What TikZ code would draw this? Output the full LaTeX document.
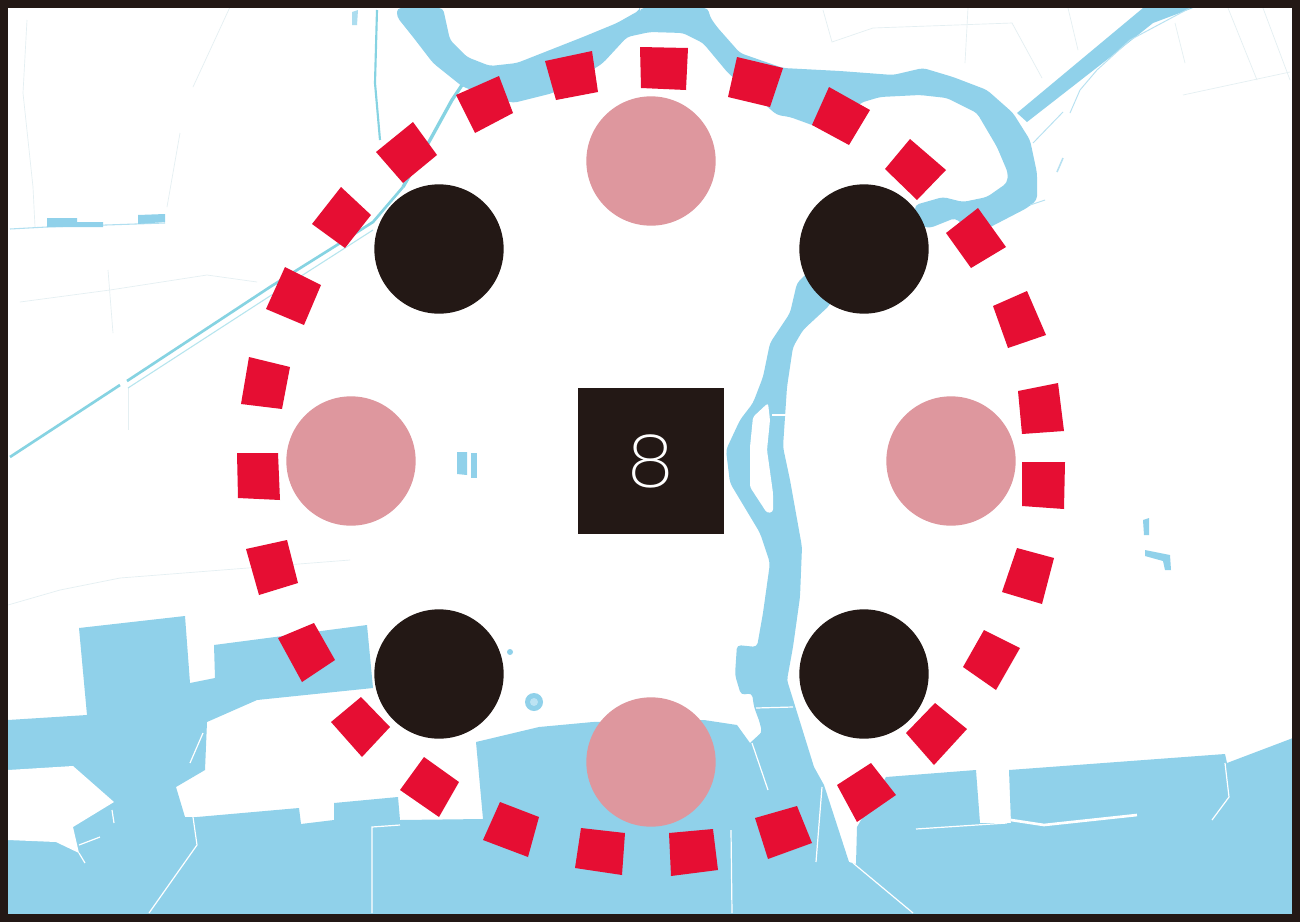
\documentclass[tikz,border=0pt]{standalone}
\usepackage{fontspec}
\newfontfamily\thineight{Poppins ExtraLight}
\definecolor{water}{HTML}{90D1EA}
\definecolor{canal}{HTML}{86D3E2}
\definecolor{faint}{HTML}{E4EFF2}
\definecolor{inkdark}{HTML}{231815}
\definecolor{rosy}{HTML}{DE979E}
\definecolor{redsq}{HTML}{E60E33}
\tikzset{
  river/.style={fill=water,rounded corners=3pt},
  basin/.style={fill=water},
  land/.style={fill=white},
  thinwhite/.style={draw=white,line width=0.9pt},
  faintline/.style={draw=faint,line width=0.5pt},
  canalline/.style={draw=canal,line width=2pt},
  ringsq/.style={fill=redsq},
  bigdot/.style={circle,minimum size=97pt,inner sep=0pt,fill=#1}
}
\begin{document}
\begin{tikzpicture}[x=0.75pt,y=-0.75pt]
\useasboundingbox (0,0) rectangle (1300,922);
\fill[white] (0,0) rectangle (1300,922);
% faint field lines
\draw[faintline] (27,20)--(23,93)--(33,187)--(35,227);
\draw[faintline] (230,7)--(193,87);
\draw[faintline] (180,133)--(167,207);
\draw[faintline] (20,302)--(110,290)--(207,275)--(257,282);
\draw[faintline] (108,270)--(113,333);
\draw[faintline] (128,388)--(128,430);
\draw[faintline] (8,605)--(60,590)--(120,578)--(350,560);
\draw[faintline] (823,10)--(832,42)--(873,28)--(1012,23)--(1042,78);
\draw[faintline] (968,8)--(965,63);
\draw[faintline] (1068,8)--(1078,50);
\draw[faintline] (1228,8)--(1257,80);
\draw[faintline] (1263,8)--(1290,80);
\draw[faintline] (1175,23)--(1185,63);
\draw[faintline] (1183,95)--(1290,72);
% canals
\draw[canalline] (10,457)--(120,385);
\draw[canalline] (127,381)--(270,287)--(337,245)--(373,222)--(403,187);
\draw[draw=canal!60,line width=0.8pt] (128,388)--(270,296)--(373,230);
\draw[draw=canal,line width=2.5pt] (403,187)--(430,140)--(452,100)--(462,85);
\draw[draw=canal,line width=1.6pt] (377,10)--(375,83)--(380,140);
\draw[draw=water!70,line width=0.8pt] (10,229)--(47,227)--(165,223);
\fill[water] (47,218)--(77,218)--(77,222)--(103,222)--(103,227)--(47,227)--cycle;
\fill[water] (138,215)--(165,214)--(165,222)--(138,224)--cycle;
\fill[water] (457,452)--(467,452)--(467,475)--(457,474)--cycle;
\fill[water] (471,453)--(477,453)--(477,478)--(471,478)--cycle;
\fill[water!75] (352,12)--(358,10)--(357,25)--(352,25)--cycle;
\fill[water] (1143,520)--(1149,518)--(1149,535)--(1144,535)--cycle;
\fill[water] (1145,550)--(1170,555)--(1171,570)--(1165,570)--(1163,561)--(1145,556)--cycle;
\fill[water] (534,702) circle[radius=9];
\fill[water!60] (534,702) circle[radius=4];
\fill[water] (510,652) circle[radius=3];
% upper river with the bend
\path[river] (397,8)--(443,8)--(450,40)--(467,57)--(490,66)--(517,63)--(550,50)--(583,37)--(617,23)--(640,10)--(640,8)--(708,8)--(710,17)--(717,27)--(740,53)--(783,68)--(840,71)--(893,75)--(923,68)--(953,77)--(987,90)--(1013,113)--(1030,140)--(1037,173)--(1037,200)--(1027,208)--(1000,222)--(975,235)--(955,218)--(930,228)--(915,225)--(915,205)--(943,197)--(963,202)--(987,197)--(1007,183)--(1008,173)--(997,147)--(977,113)--(947,98)--(920,95)--(880,97)--(860,103)--(840,135)--(812,125)--(790,117)--(777,115)--(728,73)--(703,43)--(683,33)--(650,32)--(627,37)--(603,63)--(597,67)--(553,93)--(513,103)--(463,87)--(433,63)--(413,37)--(397,17)--cycle;
% straight canal, upper right
\fill[water] (1143,8)--(1193,8)--(1153,23)--(1113,55)--(1027,122)--(1017,113)--cycle;
\draw[draw=water!65,line width=0.7pt] (1070,113)--(1080,90)--(1097,70)--(1130,40)--(1190,8);
\draw[draw=water!65,line width=0.7pt] (1033,143)--(1063,112);
\draw[draw=water!65,line width=1.2pt] (1063,158)--(1057,172);
\draw[draw=water!65,line width=0.7pt] (1030,205)--(1045,200);
% river through the middle
\path[river] (840,270)--(812,268)--(797,283)--(790,313)--(770,343)--(763,377)--(753,403)--(740,420)--(726,450)--(730,483)--(760,533)--(770,563)--(763,613)--(757,647)--(737,645)--(735,675)--(741,695)--(752,693)--(754,707)--(760,723)--(762,733)--(750,743)--(800,765)--(787,680)--(793,647)--(800,597)--(802,547)--(790,480)--(783,447)--(787,387)--(793,347)--(803,330)--(830,305)--cycle;
\path[land,rounded corners=2pt] (768,403)--(753,417)--(750,447)--(750,487)--(767,513)--(773,512)--(773,493)--(767,450)--(770,420)--cycle;
% harbour
\path[basin] (8,720)--(87,715)--(79,628)--(185,616)--(190,683)--(215,678)--(214,645)--(367,625)--(373,688)--(257,700)--(207,722)--(205,770)--(176,787)--(185,817)--(197,817)--(299,808)--(301,824)--(334,820)--(334,803)--(398,797)--(400,820)--(483,819)--(476,742)--(539,727)--(593,722)--(704,720)--(737,725)--(750,743)--(775,720)--(787,680)--(814,767)--(824,785)--(849,862)--(856,864)--(857,827)--(886,777)--(976,770)--(980,823)--(1011,823)--(1009,770)--(1225,754)--(1227,763)--(1293,738)--(1293,914)--(8,914)--cycle;
\path[land] (8,770)--(73,766)--(114,802)--(73,827)--(79,853)--(56,842)--(8,840)--cycle;
% thin white lines on the water
\draw[thinwhite] (193,817)--(197,845)--(149,913);
\draw[thinwhite] (190,763)--(203,733);
\draw[thinwhite] (372,913)--(372,827)--(400,825);
\draw[thinwhite] (731,830)--(732,913);
\draw[thinwhite] (822,787)--(816,862);
\draw[thinwhite] (752,743)--(768,790);
\draw[thinwhite] (756,708)--(793,707);
\draw[thinwhite] (853,863)--(913,913);
\draw[thinwhite] (916,829)--(1007,823);
\draw[thinwhite,line width=2pt] (1011,820)--(1044,825)--(1137,815);
\draw[thinwhite] (1225,763)--(1229,797)--(1212,820);
\draw[thinwhite] (1274,720)--(1276,738);
\draw[thinwhite] (112,810)--(114,823);
\draw[thinwhite] (79,845)--(100,837);
\draw[thinwhite] (79,853)--(85,863);
\draw[thinwhite] (772,415)--(787,415);
% ring of red blocks
\fill[ringsq] (640,47)--(688,48)--(686,90)--(641,88)--cycle;
\fill[ringsq] (737,57)--(783,68)--(770,107)--(728,97)--cycle;
\fill[ringsq] (829,87)--(870,110)--(849,145)--(812,125)--cycle;
\fill[ringsq] (910,139)--(946,170)--(917,200)--(885,169)--cycle;
\fill[ringsq] (978,208)--(1006,247)--(971,268)--(946,233)--cycle;
\fill[ringsq] (1027,291)--(1046,335)--(1008,348)--(993,306)--cycle;
\fill[ringsq] (1018,391)--(1058,383)--(1064,431)--(1022,434)--cycle;
\fill[ringsq] (1022,462)--(1065,462)--(1064,509)--(1022,506)--cycle;
\fill[ringsq] (1017,548)--(1054,558)--(1042,604)--(1002,592)--cycle;
\fill[ringsq] (984,630)--(1020,648)--(996,690)--(963,667)--cycle;
\fill[ringsq] (935,703)--(967,729)--(934,765)--(906,733)--cycle;
\fill[ringsq] (871,763)--(896,795)--(857,822)--(837,785)--cycle;
\fill[ringsq] (797,806)--(812,843)--(768,859)--(755,818)--cycle;
\fill[ringsq] (713,829)--(718,870)--(671,876)--(669,833)--cycle;
\fill[ringsq] (581,828)--(625,833)--(622,875)--(575,868)--cycle;
\fill[ringsq] (500,802)--(539,817)--(528,857)--(483,840)--cycle;
\fill[ringsq] (424,757)--(459,782)--(439,817)--(400,790)--cycle;
\fill[ringsq] (361,697)--(390,727)--(362,757)--(331,722)--cycle;
\fill[ringsq] (314,623)--(335,660)--(302,682)--(278,638)--cycle;
\fill[ringsq] (246,549)--(287,540)--(298,583)--(259,595)--cycle;
\fill[ringsq] (237,453)--(278,453)--(280,500)--(238,498)--cycle;
\fill[ringsq] (249,357)--(290,367)--(282,409)--(241,404)--cycle;
\fill[ringsq] (285,267)--(321,285)--(304,325)--(266,309)--cycle;
\fill[ringsq] (341,187)--(371,215)--(345,248)--(312,224)--cycle;
\fill[ringsq] (413,122)--(437,155)--(403,183)--(376,152)--cycle;
\fill[ringsq] (499,76)--(513,113)--(475,133)--(456,95)--cycle;
\fill[ringsq] (592,51)--(598,92)--(556,100)--(545,61)--cycle;
% circles
\node[bigdot=inkdark] (nw) at (439,249) {};
\node[bigdot=inkdark] (ne) at (864,249) {};
\node[bigdot=inkdark] (sw) at (439,674) {};
\node[bigdot=inkdark] (se) at (864,674) {};
\node[bigdot=rosy] (n) at (651,161) {};
\node[bigdot=rosy] (w) at (351,461) {};
\node[bigdot=rosy] (e) at (951,461) {};
\node[bigdot=rosy] (s) at (651,762) {};
% central block
\node[fill=inkdark,minimum size=109.5pt,inner sep=0pt,text=white] (centre) at (651,461) {\thineight\fontsize{54pt}{54pt}\selectfont 8};
% frame
\draw[inkdark,line width=6pt] (4,3.5) rectangle (1296,918);
\end{tikzpicture}
\end{document}
